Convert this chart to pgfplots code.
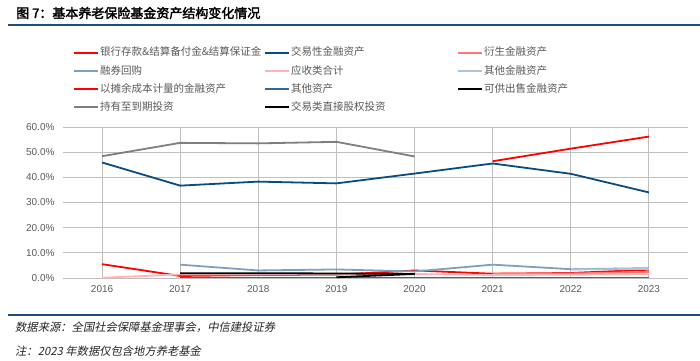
\documentclass[border=0pt]{standalone}
\usepackage{pgfplots}
\pgfplotsset{compat=1.18}
\usepackage{fontspec}
\setmainfont{Liberation Sans}
\newfontfamily\cjk{Noto Sans CJK SC}
\newfontfamily\cjkb[FakeBold=2.5]{Noto Sans CJK SC}
\newfontfamily\cjkit[FakeSlant=0.2]{Noto Sans CJK SC}
\definecolor{tick}{HTML}{595959}
\definecolor{rule}{HTML}{1F4E79}
\definecolor{cRed}{HTML}{FF0000}
\definecolor{cDark}{HTML}{0B4C7E}
\definecolor{cPink}{HTML}{FF7878}
\definecolor{cSteel}{HTML}{7F9FBF}
\definecolor{cLPink}{HTML}{FFB4B4}
\definecolor{cLBlue}{HTML}{ADC5D8}
\definecolor{cOther}{HTML}{2F6A9E}
\definecolor{cGray}{HTML}{7F7F7F}
\definecolor{grid}{HTML}{D4D4D4}
\begin{document}
\begin{tikzpicture}
\useasboundingbox (0pt,0pt) rectangle (700pt,360pt);
% title
\node[anchor=west,inner sep=0pt] at (16pt,347pt) {\cjkb\fontsize{13}{14}\selectfont 图 7：基本养老保险基金资产结构变化情况};
\draw[rule,line width=2pt] (8pt,335pt) -- (700pt,335pt);
\draw[rule,line width=1.6pt] (8pt,45pt) -- (700pt,45pt);
\node[anchor=west,inner sep=0pt,text=black!85] at (15pt,33pt) {\cjkit\fontsize{11.3}{12}\selectfont 数据来源：全国社会保障基金理事会，中信建投证券};
\node[anchor=west,inner sep=0pt,text=black!85] at (15pt,9pt) {\cjkit\fontsize{11.3}{12}\selectfont 注：2023 年数据仅包含地方养老基金};
\begin{axis}[
  at={(63pt,82pt)}, anchor=south west,
  scale only axis, width=625pt, height=151pt,
  xmin=2015.5, xmax=2023.5, ymin=0, ymax=60,
  axis line style={draw=none},
  xtick={2016,...,2023}, ytick={0,10,...,60},
  major tick length=0pt,
  ymajorgrids, grid style={grid, line width=0.9pt},
  /pgf/number format/assume math mode=true,
  xticklabel style={/pgf/number format/set thousands separator={}, text=tick, font=\fontsize{10}{11}\selectfont, yshift=-4pt},
  yticklabel={\pgfmathprintnumber[fixed,fixed zerofill,precision=1,assume math mode=true]{\tick}\%},
  yticklabel style={text=tick, font=\fontsize{10}{11}\selectfont, xshift=-5pt},
  every axis plot/.append style={line width=1.8pt, mark=none},
  legend image code/.code={\draw[#1, line width=2pt] (0pt,0pt) -- (24pt,0pt);},
  legend columns=3,
  legend cell align=left,
  legend style={at={(0.016,1.536)}, anchor=north west, draw=none, fill=none, inner sep=0pt,
    font=\cjk\fontsize{10.5}{11}\selectfont, text=tick,
    nodes={inner sep=1pt, text height=8.5pt, text depth=2pt},
    row sep=5.8pt, column sep=0pt},
]
\addplot[cRed] coordinates {(2016,5.5)(2017,0.8)(2018,1.2)(2019,1.3)(2020,3.0)(2021,1.7)(2022,2.0)(2023,3.3)};
\addlegendentry{\makebox[163pt][l]{银行存款\&结算备付金\&结算保证金}}
\addplot[cDark] coordinates {(2016,45.9)(2017,36.7)(2018,38.3)(2019,37.6)(2020,41.5)(2021,45.5)(2022,41.4)(2023,34.0)};
\addlegendentry{\makebox[165pt][l]{交易性金融资产}}
\addplot[cPink] coordinates {(2021,1.8)(2022,1.8)(2023,2.4)};
\addlegendentry{衍生金融资产}
\addplot[cSteel] coordinates {(2017,5.3)(2018,3.0)(2019,3.4)(2020,2.6)(2021,5.3)(2022,3.5)(2023,3.9)};
\addlegendentry{\makebox[163pt][l]{融券回购}}
\addplot[cLPink] coordinates {(2016,0.1)(2017,1.4)(2018,1.4)(2019,1.4)(2020,1.6)(2021,1.2)(2022,1.3)(2023,1.5)};
\addlegendentry{\makebox[165pt][l]{应收类合计}}
\addplot[cLBlue] coordinates {(2022,3.4)(2023,3.6)};
\addlegendentry{其他金融资产}
\addplot[cRed] coordinates {(2021,46.4)(2022,51.4)(2023,56.2)};
\addlegendentry{\makebox[163pt][l]{以摊余成本计量的金融资产}}
\addplot[cOther] coordinates {(2017,0.2)(2018,0.2)(2019,0.2)(2020,0.2)(2021,0.2)(2022,0.2)(2023,0.2)};
\addlegendentry{\makebox[165pt][l]{其他资产}}
\addplot[black] coordinates {(2017,1.9)(2018,1.9)(2019,1.8)(2020,1.6)};
\addlegendentry{可供出售金融资产}
\addplot[cGray] coordinates {(2016,48.4)(2017,53.7)(2018,53.5)(2019,54.1)(2020,48.3)};
\addlegendentry{\makebox[163pt][l]{持有至到期投资}}
\addplot[black] coordinates {(2019,0.3)(2020,1.6)};
\addlegendentry{\makebox[165pt][l]{交易类直接股权投资}}
\end{axis}
\end{tikzpicture}
\end{document}
